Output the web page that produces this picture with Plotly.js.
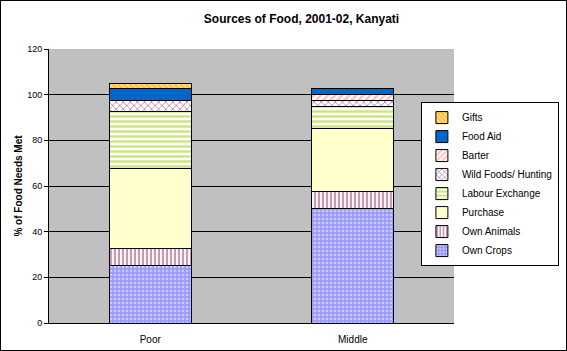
<!DOCTYPE html>
<html><head><meta charset="utf-8">
<script src="https://cdn.plot.ly/plotly-3.0.1.min.js"></script>
<style>html,body{margin:0;padding:0;background:#fff}#c{width:567px;height:351px;box-sizing:border-box;border:1px solid #000}</style>
</head><body><div id="c"></div>
<script>
const categories = ["Poor", "Middle"];
const seriesNames = ["Own Crops", "Own Animals", "Purchase", "Labour Exchange", "Wild Foods/ Hunting", "Barter", "Food Aid", "Gifts"];
const ownCrops = [25, 50];
const ownAnimals = [7.5, 7.5];
const purchase = [35, 27.5];
const labourExchange = [25, 10];
const wildFoods = [5, 2.5];
const barter = [0, 2.5];
const foodAid = [5, 2.5];
const gifts = [2.5, 0];
const yTicks = [0, 20, 40, 60, 80, 100, 120];

const values = [ownCrops, ownAnimals, purchase, labourExchange, wildFoods, barter, foodAid, gifts];
const styles = [
  {color: "#9999FF", pattern: {shape: ".", fgcolor: "#FFFFFF", bgcolor: "#9999FF", size: 4, solidity: 0.35, fillmode: "overlay"}},
  {color: "#FFFFFF", pattern: {shape: "|", fgcolor: "#993366", bgcolor: "#FFFFFF", size: 4, solidity: 0.55, fillmode: "overlay"}},
  {color: "#FFFFCC"},
  {color: "#FFFFFF", pattern: {shape: "-", fgcolor: "#99CC00", bgcolor: "#FFFFFF", size: 5, solidity: 0.5, fillmode: "overlay"}},
  {color: "#FFFFFF", pattern: {shape: "x", fgcolor: "#660066", bgcolor: "#FFFFFF", size: 5, solidity: 0.3, fillmode: "overlay"}},
  {color: "#FFFFFF", pattern: {shape: "/", fgcolor: "#FF8080", bgcolor: "#FFFFFF", size: 5, solidity: 0.5, fillmode: "overlay"}},
  {color: "#0066CC"},
  {color: "#FFE080", pattern: {shape: "\\", fgcolor: "#FF9900", bgcolor: "#FFE080", size: 4, solidity: 0.5, fillmode: "overlay"}}
];

const traces = seriesNames.map((n, i) => ({
  type: "bar", name: n, x: categories, y: values[i],
  marker: Object.assign({line: {color: "#000000", width: 1}}, styles[i]),
  hoverinfo: "name+y"
}));

const layout = {
  width: 567, height: 351,
  margin: {l: 48, r: 114, t: 48, b: 29, autoexpand: false},
  paper_bgcolor: "rgba(0,0,0,0)",
  plot_bgcolor: "#C0C0C0",
  barmode: "stack", bargap: 0.595,
  font: {family: "Arial, Liberation Sans, sans-serif", color: "#000", size: 10},
  title: {text: "<b>Sources of Food, 2001-02, Kanyati</b>", font: {size: 12}, x: 0.53, xanchor: "center", y: 0.95, yanchor: "middle"},
  xaxis: {showline: true, linecolor: "#000", linewidth: 1, ticks: "", tickfont: {size: 10}, showgrid: false, zeroline: false, ticklabelstandoff: 7},
  yaxis: {range: [0, 120], tickvals: yTicks, ticktext: yTicks.map(String), ticks: "outside", ticklen: 4, tickcolor: "#000",
          showline: true, linecolor: "#000", linewidth: 1, showgrid: true, gridcolor: "#000", gridwidth: 1, zeroline: false,
          tickfont: {size: 9},
          title: {text: "<b>% of Food Needs Met</b>", font: {size: 10}, standoff: 2}},
  legend: {x: 1.259, xanchor: "right", y: 0.507, yanchor: "middle", bgcolor: "#FFFFFF", bordercolor: "#000", borderwidth: 1,
           font: {size: 10}, traceorder: "reversed", tracegroupgap: 0, itemwidth: 30},
  showlegend: true
};
Plotly.newPlot("c", traces, layout, {displayModeBar: false, staticPlot: true});
</script></body></html>
